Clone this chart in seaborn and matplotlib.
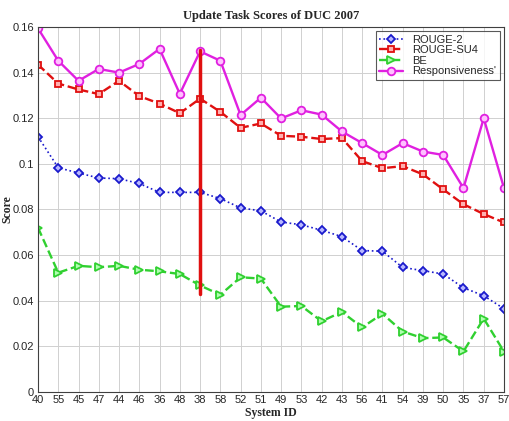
import numpy as np
import pandas as pd
import seaborn as sns
import matplotlib.pyplot as plt

# system ids in plotted order
system_ids = ['40', '55', '45', '47', '44', '46', '36', '48', '38', '58', '52', '51',
              '49', '53', '42', '43', '56', '41', '54', '39', '50', '35', '37', '57']

rouge2 = [0.1119, 0.0983, 0.0960, 0.0938, 0.0935, 0.0914, 0.0875, 0.0875, 0.0875, 0.0848,
          0.0807, 0.0794, 0.0745, 0.0733, 0.0709, 0.0681, 0.0620, 0.0617, 0.0546, 0.0532,
          0.0517, 0.0457, 0.0422, 0.0365]
rouge_su4 = [0.1435, 0.1352, 0.1326, 0.1306, 0.1364, 0.1297, 0.1264, 0.1222, 0.1286, 0.1228,
             0.1158, 0.1177, 0.1123, 0.1119, 0.1109, 0.1113, 0.1012, 0.0981, 0.0990, 0.0954,
             0.0888, 0.0823, 0.0780, 0.0743]
be = [0.0720, 0.0523, 0.0553, 0.0547, 0.0553, 0.0536, 0.0529, 0.0517, 0.0467, 0.0426,
      0.0503, 0.0497, 0.0374, 0.0377, 0.0310, 0.0351, 0.0283, 0.0343, 0.0265, 0.0236,
      0.0239, 0.0178, 0.0322, 0.0177]
responsiveness = [0.1594, 0.1452, 0.1364, 0.1416, 0.1400, 0.1438, 0.1504, 0.1307, 0.1493, 0.1452,
                  0.1214, 0.1290, 0.1199, 0.1235, 0.1216, 0.1142, 0.1091, 0.1039, 0.1091, 0.1054,
                  0.1039, 0.0894, 0.1200, 0.0894]

# marked system and span of the red bar
marked_id = '38'
bar_span = [0.043, 0.150]

pos = np.arange(len(system_ids))
df = pd.DataFrame({'pos': pos, 'ROUGE-2': rouge2, 'ROUGE-SU4': rouge_su4,
                   'BE': be, "Responsiveness'": responsiveness})

sns.set_style('whitegrid')
plt.rcParams['font.family'] = ['Liberation Sans', 'DejaVu Sans']

fig = plt.figure(figsize=(5.1, 4.21), dpi=100)
ax = fig.add_axes([0.0745, 0.0689, 0.9137, 0.867])

styles = {
    'ROUGE-2': dict(color='#1a1acc', marker='D', ls=':', mfc='#b8b8ff', ms=4.5, lw=1.2),
    'ROUGE-SU4': dict(color='#e01010', marker='s', ls='--', mfc='#ffb0b0', ms=5, lw=1.7),
    'BE': dict(color='#30d030', marker='>', ls='--', mfc='#b0ffb0', ms=5.5, lw=1.7),
    "Responsiveness'": dict(color='#e020e0', marker='o', ls='-', mfc='#ffc0ff', ms=5.5, lw=1.7),
}
for name, st in styles.items():
    sns.lineplot(data=df, x='pos', y=name, ax=ax, label=name, color=st['color'],
                 marker=st['marker'], linestyle=st['ls'], linewidth=st['lw'],
                 markersize=st['ms'], markerfacecolor=st['mfc'],
                 markeredgecolor=st['color'], markeredgewidth=1.3)

mi = system_ids.index(marked_id)
ax.plot([pos[mi], pos[mi]], bar_span, color='#e01010', lw=2.5, zorder=5)

ax.set_xlim(0, len(system_ids) - 1)
ax.set_ylim(0, 0.16)
ax.set_xticks(pos)
ax.set_xticklabels(system_ids)
ax.set_yticks([0, 0.02, 0.04, 0.06, 0.08, 0.1, 0.12, 0.14, 0.16])
ax.set_yticklabels(['0', '0.02', '0.04', '0.06', '0.08', '0.1', '0.12', '0.14', '0.16'])
ax.tick_params(labelsize=8, length=3, direction='in')
ax.tick_params(axis='x', pad=2)
ax.tick_params(axis='y', pad=3)
ax.grid(True, color='#d0d0d0', lw=0.7, ls='-')
for s in ax.spines.values():
    s.set_color('#404040')
    s.set_linewidth(0.8)

ax.set_title('Update Task Scores of DUC 2007', family='Liberation Serif',
             fontweight='bold', fontsize=9, pad=6)
ax.set_xlabel('System ID', family='Liberation Serif', fontweight='bold', fontsize=8.5)
ax.xaxis.set_label_coords(0.5, -0.0575)
ax.xaxis.label.set_va('center')
ax.set_ylabel('Score', family='Liberation Serif', fontweight='bold', fontsize=8.5)
ax.yaxis.set_label_coords(-0.0665, 0.5)
ax.yaxis.label.set_va('center')

leg = ax.legend(loc='upper right', fontsize=8, frameon=True, fancybox=False,
                handlelength=2.2, borderpad=0.3, labelspacing=0.05, borderaxespad=0.4)
leg.get_frame().set_edgecolor('#303030')
leg.get_frame().set_linewidth(0.8)

fig.savefig('out.png', dpi=100)
